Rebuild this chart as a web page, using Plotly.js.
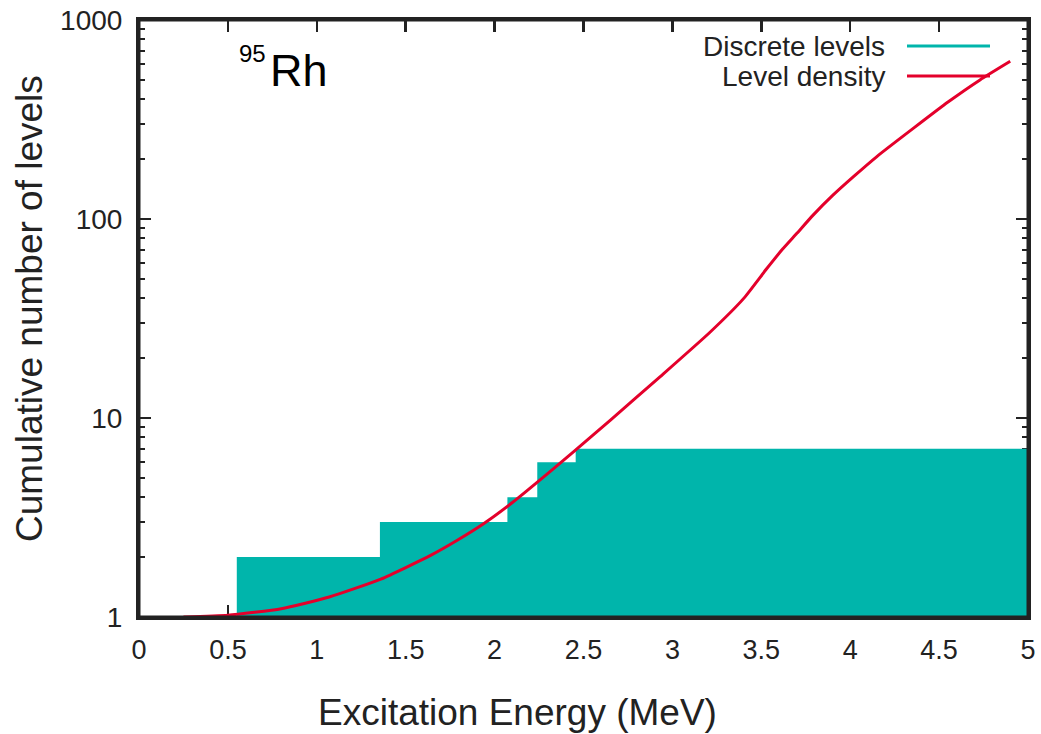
<!DOCTYPE html>
<html>
<head>
<meta charset="utf-8">
<script src="https://cdn.plot.ly/plotly-3.0.1.min.js"></script>
<style>html,body{margin:0;padding:0;background:#fff;}#chart{width:1041px;height:734px;}</style>
</head>
<body>
<div id="chart"></div>
<script>
// Discrete levels: cumulative count steps (energy in MeV where the count increases)
const levelE = [0, 0.55, 1.355, 2.072, 2.24, 2.456];
const levelN = [1, 2, 3, 4, 6, 7];
const xMax = 5;

// Level density: cumulative number of levels from the level-density model
const densE = [0.25, 0.50, 0.80, 1.07, 1.36, 1.64, 1.79, 1.94, 2.10, 2.30, 2.45, 2.65, 2.93, 3.21, 3.40, 3.53, 3.62, 3.70, 3.79, 3.90, 4.02, 4.15, 4.36, 4.55, 4.73, 4.90];
const densN = [1.00, 1.02, 1.10, 1.26, 1.55, 2.04, 2.43, 2.95, 3.76, 5.27, 6.84, 9.73, 16.1, 26.9, 39.8, 56.2, 70.6, 84.7, 104.3, 131, 163.7, 206, 287.7, 387, 500, 620];

const xTickVals = [0, 0.5, 1, 1.5, 2, 2.5, 3, 3.5, 4, 4.5, 5];
const xTickText = ['0', '0.5', '1', '1.5', '2', '2.5', '3', '3.5', '4', '4.5', '5'];
const yTickVals = [1, 10, 100, 1000];
const yTickText = ['1', '10', '100', '1000'];

const seriesNames = ['Discrete levels', 'Level density'];
const teal = '#00b5ab';
const red = '#e4002b';
const ink = '#222222';
const FONT = 'Liberation Sans, Arial, sans-serif';

// build filled step polygon from the level arrays
const lastN = levelN[levelN.length - 1];
const fillX = levelE.concat([xMax, xMax]);
const fillY = levelN.concat([lastN, levelN[0]]);

const traces = [
  {
    x: fillX, y: fillY, type: 'scatter', mode: 'lines',
    line: {shape: 'hv', width: 0, color: teal},
    fill: 'toself', fillcolor: teal,
    name: seriesNames[0], hoverinfo: 'skip', showlegend: false
  },
  {
    x: densE, y: densN, type: 'scatter', mode: 'lines',
    line: {color: red, width: 3, shape: 'spline', smoothing: 0.5},
    name: seriesNames[1], hoverinfo: 'skip', showlegend: false
  }
];

const L = 139, R = 1028, T = 20, B = 617;
const W = R - L, H = B - T;
const px = v => (v - L) / W;
const py = v => (B - v) / H;

const layout = {
  width: 1041, height: 734,
  margin: {l: L, r: 1041 - R, t: T, b: 734 - B},
  paper_bgcolor: '#ffffff', plot_bgcolor: '#ffffff',
  font: {family: FONT, color: ink},
  showlegend: false,
  xaxis: {
    range: [0, 5], tickvals: xTickVals, ticktext: xTickText,
    ticks: 'inside', ticklen: 12, tickwidth: 2.5, tickcolor: ink,
    showline: true, linewidth: 3, linecolor: ink, mirror: 'ticks',
    showgrid: false, zeroline: false, layer: 'below traces',
    tickfont: {size: 27, color: ink, family: FONT}, ticklabelstandoff: 7
  },
  yaxis: {
    type: 'log', range: [0, 3], tickvals: yTickVals, ticktext: yTickText,
    ticks: 'inside', ticklen: 12, tickwidth: 2.5, tickcolor: ink,
    minor: {ticks: 'inside', ticklen: 6, tickwidth: 2, tickcolor: ink, dtick: 'D1', showgrid: false},
    showline: true, linewidth: 3, linecolor: ink, mirror: 'ticks',
    showgrid: false, zeroline: false, layer: 'below traces',
    tickfont: {size: 28, color: ink, family: FONT}, ticklabelstandoff: 8
  },
  shapes: [
    {type: 'rect', xref: 'paper', yref: 'paper', x0: 0, x1: 1, y0: 0, y1: 1,
     line: {color: ink, width: 3}, layer: 'above'},
    {type: 'line', xref: 'paper', yref: 'paper', x0: px(907), x1: px(990), y0: py(46), y1: py(46),
     line: {color: teal, width: 3}},
    {type: 'line', xref: 'paper', yref: 'paper', x0: px(907), x1: px(990), y0: py(76), y1: py(76),
     line: {color: red, width: 3}}
  ],
  annotations: [
    {text: 'Excitation Energy (MeV)', xref: 'paper', yref: 'paper', x: px(517), y: py(712),
     xanchor: 'center', yanchor: 'middle', showarrow: false, font: {size: 37, color: ink, family: FONT}},
    {text: 'Cumulative number of levels', xref: 'paper', yref: 'paper', x: px(29), y: py(309),
     xanchor: 'center', yanchor: 'middle', textangle: -90, showarrow: false, font: {size: 37, color: ink, family: FONT}},
    {text: seriesNames[0], xref: 'paper', yref: 'paper', x: px(887), y: py(46),
     xanchor: 'right', yanchor: 'middle', showarrow: false, font: {size: 28, color: ink, family: FONT}},
    {text: seriesNames[1], xref: 'paper', yref: 'paper', x: px(887), y: py(76),
     xanchor: 'right', yanchor: 'middle', showarrow: false, font: {size: 28, color: ink, family: FONT}},
    {text: '95', xref: 'paper', yref: 'paper', x: px(237), y: py(53),
     xanchor: 'left', yanchor: 'middle', showarrow: false, font: {size: 24, color: '#000', family: FONT}},
    {text: 'Rh', xref: 'paper', yref: 'paper', x: px(268), y: py(70),
     xanchor: 'left', yanchor: 'middle', showarrow: false, font: {size: 45, color: '#000', family: FONT}}
  ]
};

Plotly.newPlot('chart', traces, layout, {staticPlot: true, displayModeBar: false});
</script>
</body>
</html>
